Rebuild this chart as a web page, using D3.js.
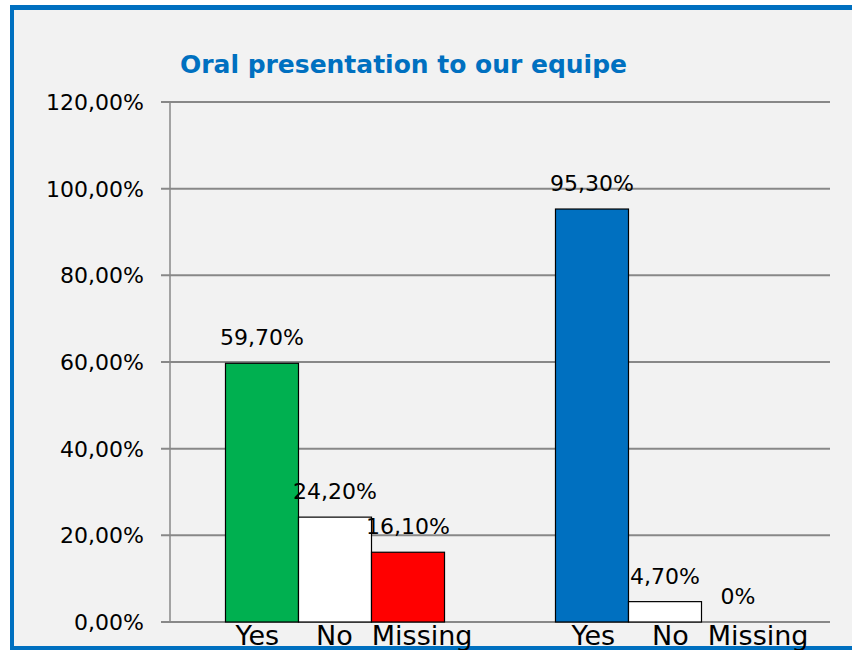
<!DOCTYPE html>
<meta charset="utf-8">

<style>
  body { margin: 0; background: #fff; }
  text { font-family: "DejaVu Sans", sans-serif; }
</style>

<svg class="chart"></svg>

<script src="https://d3js.org/d3.v7.min.js"></script>
<script>

  var width  = 852;
  var height = 650;

  // two groups of answers, three bars each
  var groups     = ["A", "B"];
  var answers    = ["Yes", "No", "Missing"];
  var valuesA    = [59.7, 24.2, 16.1];
  var valuesB    = [95.3, 4.7, 0];
  var valueText  = [["59,70%", "24,20%", "16,10%"], ["95,30%", "4,70%", "0%"]];
  var barColors  = [["#00b050", "#ffffff", "#ff0000"], ["#0070c0", "#ffffff", "#ffffff"]];
  var yTicks     = [0, 20, 40, 60, 80, 100, 120];

  var margin = { left: 170, right: 22, top: 102, bottom: 28 };

  var chart = d3.select(".chart")
      .attr("width", width)
      .attr("height", height);

  // frame
  chart.append("rect")
      .attr("x", 10).attr("y", 5)
      .attr("width", width - 10).attr("height", height - 5)
      .attr("fill", "#f2f2f2");

  var x0 = d3.scaleBand()
      .domain(groups)
      .range([margin.left, width - margin.right]);

  var x1 = d3.scaleBand()
      .domain(answers)
      .range([0, x0.bandwidth()])
      .paddingOuter(0.76);

  var y = d3.scaleLinear()
      .domain([0, 120])
      .range([height - margin.bottom, margin.top]);

  // blue border at the bottom, under the labels
  chart.append("rect")
      .attr("x", 10).attr("y", height - 4)
      .attr("width", width - 10).attr("height", 4)
      .attr("fill", "#0070c0");

  // gridlines
  chart.append("g")
    .selectAll("line")
    .data(yTicks)
    .enter().append("line")
      .attr("x1", margin.left - 9)
      .attr("x2", width - margin.right)
      .attr("y1", function(d) { return y(d); })
      .attr("y2", function(d) { return y(d); })
      .attr("stroke", "#888888")
      .attr("stroke-width", 2);

  chart.append("line")
      .attr("x1", margin.left).attr("x2", margin.left)
      .attr("y1", y(120)).attr("y2", y(0))
      .attr("stroke", "#888888")
      .attr("stroke-width", 1.5);

  chart.append("g")
    .selectAll("text")
    .data(yTicks)
    .enter().append("text")
      .attr("x", 144)
      .attr("y", function(d) { return y(d) + 8; })
      .attr("text-anchor", "end")
      .attr("font-size", 22)
      .attr("fill", "#000")
      .text(function(d) { return d3.format(".2f")(d).replace(".", ",") + "%"; });

  var data = [valuesA, valuesB];

  var groupEls = chart.append("g")
    .selectAll("g")
    .data(groups)
    .enter().append("g")
      .attr("transform", function(g) { return "translate(" + x0(g) + ",0)"; });

  groupEls.each(function(g, gi) {
    var sel = d3.select(this);
    var vals = data[gi];

    sel.selectAll("rect")
      .data(vals)
      .enter().append("rect")
        .filter(function(d) { return d > 0; })
        .attr("x", function(d, i) { return x1(answers[i]); })
        .attr("y", function(d) { return y(d); })
        .attr("width", x1.bandwidth())
        .attr("height", function(d) { return y(0) - y(d); })
        .attr("fill", function(d, i) { return barColors[gi][i]; })
        .attr("stroke", "#000")
        .attr("stroke-width", 1.2);

    sel.selectAll("text.val")
      .data(vals)
      .enter().append("text")
        .attr("class", "val")
        .attr("x", function(d, i) { return x1(answers[i]) + x1.bandwidth() / 2; })
        .attr("y", function(d) { return y(d) - 18; })
        .attr("text-anchor", "middle")
        .attr("font-size", 22)
        .attr("fill", "#000")
        .text(function(d, i) { return valueText[gi][i]; });

    // category labels written as one line under the group
    var lbl = sel.append("text")
        .attr("x", x1(answers[0]) + 10 + gi * 6)
        .attr("y", height - 5)
        .attr("font-size", 27)
        .attr("fill", "#000");
    lbl.append("tspan").text(answers[0]);
    lbl.append("tspan").attr("dx", 37).text(answers[1]);
    lbl.append("tspan").attr("dx", 19).text(answers[2]);
  });

  // blue border on top and left
  chart.append("rect")
      .attr("x", 10).attr("y", 5)
      .attr("width", width - 10).attr("height", 5)
      .attr("fill", "#0070c0");
  chart.append("rect")
      .attr("x", 10).attr("y", 5)
      .attr("width", 4).attr("height", height - 5)
      .attr("fill", "#0070c0");

  chart.append("text")
      .attr("x", 180)
      .attr("y", 73)
      .attr("font-size", 24)
      .attr("font-weight", "bold")
      .attr("fill", "#0070c0")
      .attr("textLength", 447)
      .attr("lengthAdjust", "spacingAndGlyphs")
      .text("Oral presentation to our equipe");

</script>
